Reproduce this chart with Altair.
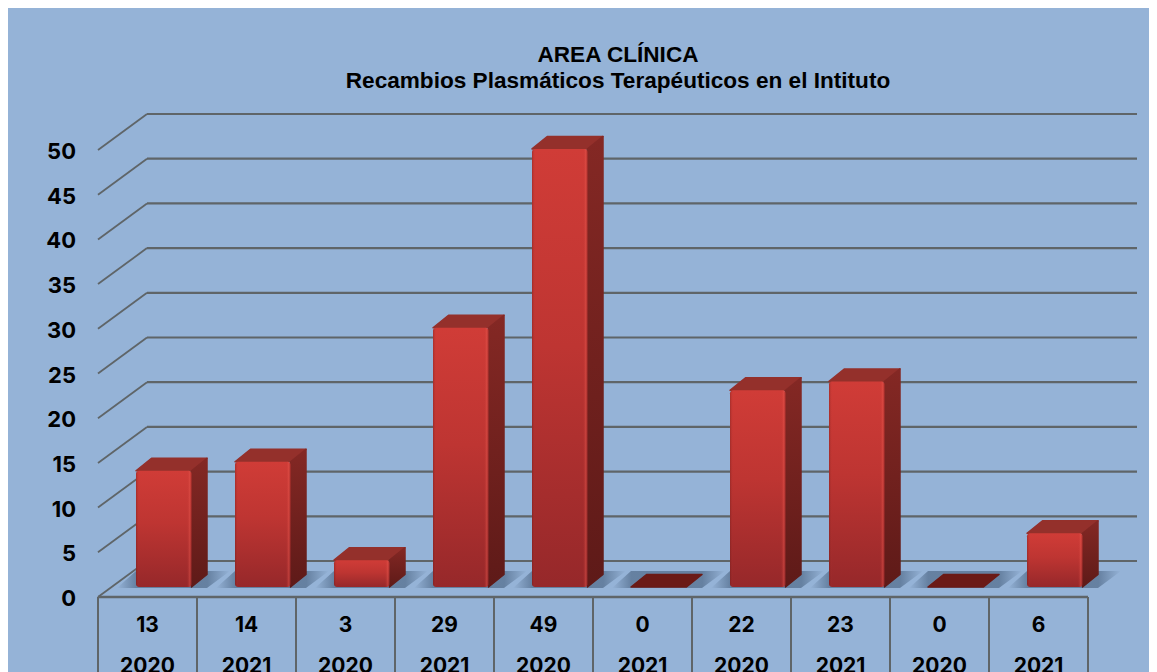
import altair as alt
import pandas as pd

values = [13, 14, 3, 29, 49, 0, 22, 23, 0, 6]
years = ["2020", "2021", "2020", "2021", "2020", "2021", "2020", "2021", "2020", "2021"]
y_ticks = [0, 5, 10, 15, 20, 25, 30, 35, 40, 45, 50]
title_lines = ["AREA CLÍNICA", "Recambios Plasmáticos Terapéuticos en el Intituto"]

W, H = 1141, 664
UX, UY = 99.0, 8.94            # px per category / px per value unit
X_DOM = [-90 / UX, (W - 90) / UX]
Y_DOM = [-(H - 589) / UY, 589 / UY]
x_s = alt.Scale(domain=X_DOM, nice=False, zero=False)
y_s = alt.Scale(domain=Y_DOM, nice=False, zero=False)
X = lambda f: alt.X(f, type="quantitative", scale=x_s, axis=None)
Y = lambda f: alt.Y(f, type="quantitative", scale=y_s, axis=None, stack=None)


def grad(stops, horizontal=False):
    return alt.LinearGradient(
        gradient="linear", x1=0, y1=0, x2=1 if horizontal else 0, y2=0 if horizontal else 1,
        stops=[alt.GradientStop(offset=o, color=c) for o, c in stops],
    )


WALL_DX, WALL_DY = 49 / UX, 36 / UY
BAR_L, BAR_W = 38 / UX, 55.5 / UX
BASE = 10 / UY
D_X, D_Y = 15.5 / UX, 12.5 / UY
FONT = "Inter"
GRID = "#5F6568"
n = len(values)

grid = pd.DataFrame({"v": y_ticks})
grid["v_back"] = grid.v + WALL_DY
grid["x0"] = 0.0
grid["x1"] = WALL_DX
grid["x2"] = 1039 / UX

back = alt.Chart(grid).mark_rule(color=GRID, strokeWidth=2.2).encode(x=X("x1"), x2="x2", y=Y("v_back"))
diag = alt.Chart(grid).mark_rule(color=GRID, strokeWidth=1.8).encode(x=X("x0"), x2="x1", y=Y("v"), y2="v_back")

bars = pd.DataFrame({"i": range(n), "v": values, "yr": years})
bars["L"] = bars.i + BAR_L
bars["R"] = bars.L + BAR_W
bars["b"] = BASE
bars["t"] = BASE + bars.v
bars["cx"] = bars.i + 0.5
bars["row1"] = -27 / UY
bars["row2"] = -68 / UY

# floor shadows, side faces, top faces
sh_rows, side_rows, top_rows = [], [], []
for r in bars.itertuples():
    a = r.L - 19 / UX
    b_ = a + 19 / UX
    c = r.R + D_X
    d = c + 23 / UX
    lo, hi = r.b - 1 / UY, r.b + 16 / UY
    sh_rows += [
        dict(i=r.i, x=a, ya=lo, yb=lo),
        dict(i=r.i, x=b_, ya=hi, yb=lo),
        dict(i=r.i, x=c, ya=hi, yb=lo),
        dict(i=r.i, x=d, ya=hi, yb=hi),
    ]
    if r.v > 0:
        side_rows += [
            dict(i=r.i, x=r.R, ya=r.t, yb=r.b),
            dict(i=r.i, x=r.R + D_X, ya=r.t + D_Y, yb=r.b + D_Y),
        ]
    fill = "#94302B" if r.v > 0 else "#6B1A16"
    top_rows += [
        dict(i=r.i, x=r.L, ya=r.t, yb=r.t, f=fill),
        dict(i=r.i, x=r.L + D_X, ya=r.t + D_Y, yb=r.t, f=fill),
        dict(i=r.i, x=r.R, ya=r.t + D_Y, yb=r.t, f=fill),
        dict(i=r.i, x=r.R + D_X, ya=r.t + D_Y, yb=r.t + D_Y, f=fill),
    ]


def poly(rows, **mark):
    return alt.Chart(pd.DataFrame(rows)).mark_area(orient="vertical", **mark).encode(
        x=X("x"), y=Y("ya"), y2="yb", detail="i:N"
    )


shadow = poly(sh_rows, color=grad([
    (0, "rgba(70,95,125,0)"),
    (0.17, "rgba(70,95,125,0.6)"),
    (0.8, "rgba(70,95,125,0.6)"),
    (1, "rgba(70,95,125,0)")], horizontal=True))
side_fill = grad([(0, "#842824"), (1, "#5E1A18")])
side = poly(side_rows, color=side_fill, stroke=side_fill, strokeWidth=1.5, strokeJoin="round")
top = alt.Chart(pd.DataFrame(top_rows)).mark_area(
    orient="vertical", strokeWidth=1.5, strokeJoin="round"
).encode(
    x=X("x"), y=Y("ya"), y2="yb", detail="i:N",
    color=alt.Color("f:N", scale=None),
    stroke=alt.Stroke("f:N", scale=None))

solid = bars[bars.v > 0]
front = alt.Chart(solid).mark_bar(
    cornerRadius=3, color=grad([(0, "#D03C37"), (0.45, "#BE3532"), (1, "#96282A")])
).encode(x=X("L"), x2="R", y=Y("b"), y2="t")
sheen = alt.Chart(solid).mark_bar(cornerRadius=3, color=grad([
    (0, "rgba(90,20,20,0.35)"),
    (0.06, "rgba(200,60,55,0)"),
    (0.92, "rgba(200,60,55,0)"),
    (0.97, "rgba(235,90,80,0.45)"),
    (1, "rgba(120,30,30,0.4)")], horizontal=True)).encode(x=X("L"), x2="R", y=Y("b"), y2="t")

# table below the floor
seps = pd.DataFrame({"x": list(range(n + 1))})
seps["y0"] = 0.0
seps["y1"] = Y_DOM[0]
vlines = alt.Chart(seps).mark_rule(color=GRID, strokeWidth=2).encode(x=X("x"), y=Y("y0"), y2="y1")
floor = pd.DataFrame({"x0": [0.0], "x1": [float(n)], "y": [0.0]})
hline = alt.Chart(floor).mark_rule(color=GRID, strokeWidth=2.5).encode(x=X("x0"), x2="x1", y=Y("y"))

txt = dict(font=FONT, fontWeight="bold", fontSize=21, color="#000000", baseline="middle", dy=2)
row1 = alt.Chart(bars).mark_text(align="center", **txt).encode(x=X("cx"), y=Y("row1"), text="v:Q")
row2 = alt.Chart(bars).mark_text(align="center", clip=True, **txt).encode(x=X("cx"), y=Y("row2"), text="yr:N")

ticks = pd.DataFrame({"v": y_ticks})
ticks["x"] = -22 / UX
ylabels = alt.Chart(ticks).mark_text(align="right", **{**txt, "fontSize": 22}).encode(
    x=X("x"), y=Y("v"), text="v:Q")

titles = pd.DataFrame({"t": title_lines, "x": [520 / UX, 520 / UX], "y": [542 / UY, 516 / UY]})
title = alt.Chart(titles).mark_text(
    align="center", baseline="middle", font="Liberation Sans", fontWeight="bold", fontSize=22.6, color="#000000"
).encode(x=X("x"), y=Y("y"), text="t:N")

chart = alt.layer(
    back, diag, shadow, top, side, front, sheen, vlines, hline, row1, row2, ylabels, title
).properties(
    width=W, height=H, background="#95B3D7", padding=0,
    autosize=alt.AutoSizeParams(type="none"),
).configure_view(stroke=None)

chart.save("out.html", embed_options={"renderer": "svg", "actions": False})
